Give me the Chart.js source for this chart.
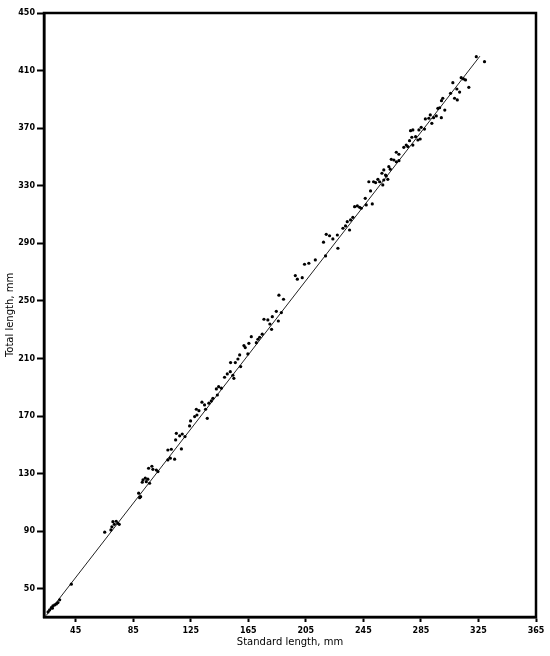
<!DOCTYPE html>
<html>
<head>
<meta charset="utf-8">
<script src="https://cdn.jsdelivr.net/npm/chart.js@4/dist/chart.umd.min.js"></script>
<style>
  html, body { margin: 0; padding: 0; background: #fff; }
  #wrap { width: 550px; height: 656px; }
</style>
</head>
<body>
<div id="wrap"><canvas id="lengthChart"></canvas></div>
<script>
// Standard length (mm) vs total length (mm)
const standardLength = [
  25.8, 26.9, 28.1, 28.8, 29.2, 30.4, 31.6, 32.7, 33.9, 42.0,
  65.2, 69.5, 70.2, 70.9, 71.9, 73.2, 74.3, 75.3,
  88.8, 89.5, 90.2, 91.3, 91.8, 93.4, 94.1, 95.2, 96.4,
  95.7, 98.0, 98.7, 101.1, 102.2,
  109.1, 110.8, 113.8, 109.1, 111.5, 118.5,
  114.5, 115.0, 117.3, 119.1, 121.0,
  124.2, 124.9, 127.7, 129.3, 136.5,
  128.9, 130.7, 135.3, 132.8, 134.6, 137.6,
  139.3, 140.4, 143.5, 142.8, 144.4, 146.3,
  148.5, 150.4, 152.5, 154.3, 155.0,
  152.7, 156.0, 157.8, 159.7, 159.0, 164.7,
  162.0, 162.9, 165.4, 167.1, 170.6, 171.7, 172.9, 174.7,
  175.9, 178.6, 181.7, 180.0, 181.2, 185.9, 184.5, 188.0,
  186.3, 189.5, 197.7, 199.1, 202.5, 204.1, 207.1, 211.6,
  217.3, 218.7, 219.2, 221.5, 223.8, 226.9, 227.3,
  230.8, 232.6, 235.4, 233.8, 236.1, 237.7,
  238.9, 240.8, 242.4, 243.5, 247.0, 251.2, 246.3, 250.0,
  248.8, 252.1, 253.5, 255.1, 256.3, 259.2, 258.5, 257.9, 260.9, 262.0, 260.4, 259.2, 262.7, 263.7,
  264.4, 266.2, 267.9, 269.7, 267.9, 269.7,
  273.1, 274.8, 275.9, 279.4, 277.1, 278.7, 281.3, 282.9, 284.5,
  277.8, 279.4, 283.6, 285.2, 287.5, 288.1, 290.5, 292.6,
  291.5, 293.8, 295.7, 299.2, 296.8, 298.0, 301.6,
  299.3, 300.2, 308.4, 310.3, 305.6, 311.9, 310.0, 307.2, 318.3,
  313.0, 314.6, 316.0, 323.5, 329.2
];
const totalLength = [
  34.0, 35.4, 37.0, 36.6, 38.2, 38.9, 39.6, 40.5, 42.4, 53.3,
  89.4, 91.0, 93.1, 96.7, 94.9, 97.0, 95.6, 94.9,
  116.5, 113.4, 114.1, 124.1, 125.7, 126.9, 124.5, 126.2, 123.4,
  133.8, 135.2, 133.1, 132.6, 131.5,
  139.6, 140.8, 140.1, 146.5, 147.0, 147.2,
  153.5, 158.1, 156.3, 157.6, 155.8,
  163.2, 166.7, 169.7, 170.8, 168.5,
  174.8, 173.8, 174.8, 179.7, 177.8, 179.0,
  180.6, 182.4, 184.7, 188.9, 190.5, 189.4,
  197.0, 199.3, 200.9, 198.4, 196.3,
  207.2, 207.2, 209.7, 204.4, 212.5, 213.2,
  219.0, 217.6, 220.6, 225.2, 221.0, 223.4, 224.8, 226.9,
  237.3, 236.8, 239.1, 234.0, 230.3, 236.1, 242.8, 241.9,
  254.0, 251.2, 267.6, 265.1, 266.2, 275.5, 276.2, 278.5,
  290.8, 281.3, 296.3, 295.3, 293.1, 295.8, 286.6,
  300.5, 302.1, 299.3, 305.1, 306.3, 308.1,
  315.5, 316.0, 315.1, 314.4, 316.7, 317.4, 321.3, 326.4,
  332.8, 332.8, 332.2, 334.5, 332.8, 334.0, 330.6, 338.7, 336.8, 334.5, 337.5, 341.0, 343.3, 341.5,
  348.4, 347.9, 346.7, 347.4, 353.3, 351.9,
  356.7, 358.3, 357.2, 358.3, 361.3, 363.7, 364.1, 361.8, 362.5,
  368.3, 368.8, 368.8, 370.6, 369.4, 376.4, 376.9, 373.4,
  379.2, 377.3, 378.5, 377.3, 383.8, 384.2, 382.6,
  389.1, 390.8, 390.8, 389.6, 394.2, 395.1, 397.2, 401.6, 398.4,
  405.1, 404.2, 403.5, 419.7, 416.2
];

// fitted line, two end points
const fitX = [24.5, 326];
const fitY = [31.5, 420];

const xTicks = [45, 85, 125, 165, 205, 245, 285, 325, 365];
const yTicks = [50, 90, 130, 170, 210, 250, 290, 330, 370, 410, 450];

const tickFont = { family: "'DejaVu Sans', sans-serif", size: 8, weight: 'bold' };
const titleFont = { family: "'DejaVu Sans', sans-serif", size: 10 };

// top + right frame lines
const frame = {
  id: 'frame',
  afterDraw(chart) {
    const { ctx, chartArea: a } = chart;
    ctx.save();
    ctx.strokeStyle = '#000';
    ctx.lineWidth = 2.5;
    ctx.strokeRect(a.left, a.top, a.right - a.left, a.bottom - a.top);
    ctx.restore();
  }
};

const ctx = document.getElementById('lengthChart').getContext('2d');
new Chart(ctx, {
  type: 'scatter',
  data: {
    datasets: [
      {
        label: 'Specimens',
        data: standardLength.map((x, i) => ({ x: x, y: totalLength[i] })),
        backgroundColor: '#000',
        borderColor: '#000',
        pointRadius: 1.6,
        pointBorderWidth: 0
      },
      {
        type: 'line',
        label: 'Fit',
        data: fitX.map((x, i) => ({ x: x, y: fitY[i] })),
        borderColor: '#222',
        borderWidth: 1,
        pointRadius: 0,
        fill: false
      }
    ]
  },
  options: {
    responsive: true,
    maintainAspectRatio: false,
    animation: false,
    layout: { padding: { left: 0, right: 14, top: 13, bottom: 0 } },
    plugins: {
      legend: { display: false },
      tooltip: { enabled: false }
    },
    scales: {
      x: {
        type: 'linear',
        min: 23,
        max: 365,
        afterBuildTicks: (axis) => { axis.ticks = xTicks.map(v => ({ value: v })); },
        afterFit: (scale) => { scale.height = 39; },
        ticks: {
          font: tickFont,
          color: '#000',
          padding: 4,
          autoSkip: false,
          maxRotation: 0,
          callback: (v) => String(v)
        },
        grid: {
          drawOnChartArea: false,
          drawTicks: true,
          tickLength: 5,
          tickWidth: 2,
          color: '#000'
        },
        border: { display: true, color: '#000', width: 2.5 },
        title: {
          display: true,
          text: 'Standard length, mm',
          color: '#000',
          font: titleFont,
          padding: { top: 0, bottom: 8 }
        }
      },
      y: {
        type: 'linear',
        min: 30.5,
        max: 450,
        afterBuildTicks: (axis) => { axis.ticks = yTicks.map(v => ({ value: v })); },
        afterFit: (scale) => { scale.width = 44; },
        ticks: {
          font: tickFont,
          color: '#000',
          padding: 2,
          autoSkip: false,
          callback: (v) => String(v)
        },
        grid: {
          drawOnChartArea: false,
          drawTicks: true,
          tickLength: 7,
          tickWidth: 2,
          color: '#000'
        },
        border: { display: true, color: '#000', width: 2.5 },
        title: {
          display: true,
          text: 'Total length, mm',
          color: '#000',
          font: titleFont,
          padding: { top: 4, bottom: 0 }
        }
      }
    }
  },
  plugins: [frame]
});
</script>
</body>
</html>
